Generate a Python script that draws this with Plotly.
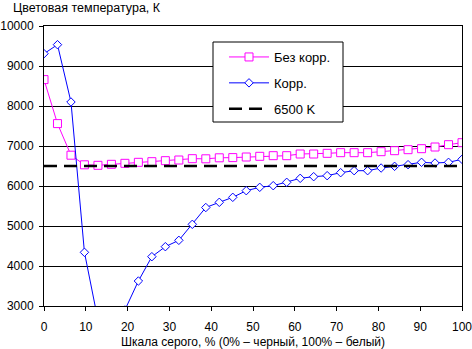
import plotly.graph_objects as go

n_points = 32
x_vals = [i * 100 / (n_points - 1) for i in range(n_points)]

bez_korr = [8660, 7560, 6770, 6530, 6517, 6542, 6567, 6592, 6608, 6633,
            6650, 6683, 6680, 6705, 6710, 6725, 6742, 6758, 6758, 6800,
            6800, 6817, 6833, 6833, 6833, 6858, 6883, 6908, 6933, 6975,
            7033, 7083]
korr = [9308, 9533, 8100, 4342, 2650, 2300, 2900, 3625, 4233, 4483,
        4642, 5042, 5462, 5592, 5717, 5883, 5967, 6008, 6092, 6192,
        6233, 6258, 6333, 6383, 6383, 6450, 6492, 6533, 6592, 6575,
        6592, 6667]
ref_x = [0, 100]
ref_y = [6500, 6500]

names = ["Без корр.", "Корр.", "6500 K"]
y_title = "Цветовая температура, К"
x_title = "Шкала серого, % (0% – черный, 100% – белый)"
y_ticks = [3000, 4000, 5000, 6000, 7000, 8000, 9000, 10000]
y_ticktext = ["3000", "4000", "5000", "6000", "7000", "8000", "9000", "10000"]
x_ticks = [0, 10, 20, 30, 40, 50, 60, 70, 80, 90, 100]

font = "Liberation Sans, Arial, sans-serif"

W, H = 472, 349
ML, MR, MT, MB = 44, 10, 26, 43
PW, PH = W - ML - MR, H - MT - MB


def px_x(p):
    return (p - ML) / PW


def px_y(p):
    return (H - MB - p) / PH


fig = go.Figure()
fig.add_trace(go.Scatter(
    x=x_vals, y=bez_korr, name=names[0], mode="lines+markers",
    line=dict(color="#FF00FF", width=1),
    marker=dict(symbol="square", size=8, color="white",
                line=dict(color="#FF00FF", width=1)),
    legendgroup="a"))
fig.add_trace(go.Scatter(
    x=x_vals, y=korr, name=names[1], mode="lines+markers",
    line=dict(color="#0000FF", width=1),
    marker=dict(symbol="diamond", size=6.5, color="white",
                line=dict(color="#0000FF", width=1)),
    legendgroup="b"))
fig.add_trace(go.Scatter(
    x=ref_x, y=ref_y, name=names[2], mode="lines",
    line=dict(color="black", width=2.5, dash="13px,7px"),
    legendgroup="c"))

fig.update_layout(
    width=W, height=H,
    margin=dict(l=ML, r=MR, t=MT, b=MB, autoexpand=False),
    paper_bgcolor="white", plot_bgcolor="white",
    font=dict(family=font, size=12, color="black"),
    showlegend=True,
    legend=dict(x=px_x(224), y=px_y(42), xanchor="left", yanchor="top",
                bgcolor="rgba(0,0,0,0)", borderwidth=0,
                font=dict(family=font, size=13, color="black"),
                tracegroupgap=6, traceorder="grouped",
                itemwidth=40),
    xaxis=dict(range=[0, 100], tickvals=x_ticks, showgrid=False,
               zeroline=False, showline=True, linecolor="black", linewidth=1,
               mirror=True, ticks="outside", ticklen=4, tickcolor="black",
               ticklabelstandoff=6, automargin=False,
               ticklabeloverflow="allow",
               title=dict(text=x_title, standoff=8,
                          font=dict(family=font, size=12))),
    yaxis=dict(range=[3000, 10000], tickvals=y_ticks, ticktext=y_ticktext,
               showgrid=True,
               gridcolor="black", gridwidth=1, zeroline=False,
               showline=True, linecolor="black", linewidth=1, mirror=True,
               ticks="outside", ticklen=4, tickcolor="black",
               ticklabelstandoff=3, automargin=False,
               ticklabeloverflow="allow"),
    shapes=[dict(type="rect", xref="paper", yref="paper",
                 x0=px_x(213), x1=px_x(343), y0=px_y(122), y1=px_y(42),
                 fillcolor="white", line=dict(color="black", width=1),
                 layer="above")],
    annotations=[dict(text=y_title, x=0, y=1, xref="paper", yref="paper",
                      xshift=-33, yshift=9, xanchor="left", yanchor="bottom",
                      showarrow=False, font=dict(family=font, size=12.5))],
)

fig.write_html("out.html")
